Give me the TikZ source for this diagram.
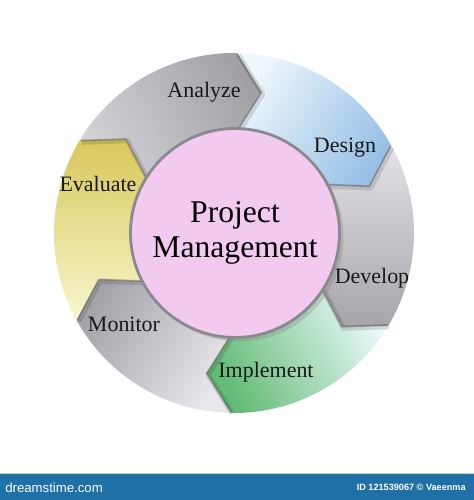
\documentclass[tikz,border=0pt]{standalone}
\usepackage{fontspec}
\setmainfont{Liberation Serif}
\newfontfamily\barfont{Liberation Sans}
\usetikzlibrary{shadows}

\definecolor{hubpink}{HTML}{F2C9EF}
\definecolor{hubrim}{HTML}{8A8A8E}
\definecolor{anaA}{HTML}{D2D2D6}
\definecolor{anaB}{HTML}{A2A2A6}
\definecolor{desA}{HTML}{EEF7FC}
\definecolor{desB}{HTML}{98C0E6}
\definecolor{devA}{HTML}{E2E2E6}
\definecolor{devB}{HTML}{A6A6AA}
\definecolor{impA}{HTML}{EAF8FA}
\definecolor{impB}{HTML}{63BB76}
\definecolor{monA}{HTML}{E8E8EC}
\definecolor{monB}{HTML}{A4A4A8}
\definecolor{evaA}{HTML}{F8F6CC}
\definecolor{evaB}{HTML}{D8C85C}
\definecolor{barblue}{HTML}{1F70A6}

\begin{document}
\begin{tikzpicture}

\tikzset{
  StepLabel/.style = { font = \fontsize{12.5}{15}\selectfont, text = black!90 },
  HeadEdge/.style  = { draw = black!60, line width = 0.8pt, opacity = 0.6,
                       line join = round },
  HeadShade/.style = { draw = black, line width = 3pt, opacity = 0.12,
                       line join = round, xshift = 0.8pt, yshift = -0.8pt },
  Hub/.style       = { circle, draw = hubrim, line width = 1.6pt,
                       fill = hubpink, minimum size = 4.18cm, align = center,
                       font = \fontsize{18}{20}\selectfont,
                       drop shadow = {opacity = 0.3} },
  BarText/.style   = { text = white, inner sep = 0pt } }

  \useasboundingbox (-4.68,-5.34) rectangle (4.80,4.66);

  % ring segments, clockwise
  \shade[bottom color=anaA, top color=anaB, shading angle=-61]
    (149:3.6) arc[start angle=149, end angle=89, radius=3.6] -- (79:2.86)
    -- (89:2.0) arc[start angle=89, end angle=149, radius=2.0] -- (139:2.86) -- cycle;
  \shade[bottom color=desA, top color=desB, shading angle=-121]
    (89:3.6) arc[start angle=89, end angle=29, radius=3.6] -- (19:2.86)
    -- (29:2.0) arc[start angle=29, end angle=89, radius=2.0] -- (79:2.86) -- cycle;
  \shade[bottom color=devA, top color=devB, shading angle=-181]
    (29:3.6) arc[start angle=29, end angle=-31, radius=3.6] -- (-41:2.86)
    -- (-31:2.0) arc[start angle=-31, end angle=29, radius=2.0] -- (19:2.86) -- cycle;
  \shade[bottom color=impA, top color=impB, shading angle=119]
    (-31:3.6) arc[start angle=-31, end angle=-91, radius=3.6] -- (-101:2.86)
    -- (-91:2.0) arc[start angle=-91, end angle=-31, radius=2.0] -- (-41:2.86) -- cycle;
  \shade[bottom color=monA, top color=monB, shading angle=59]
    (-91:3.6) arc[start angle=-91, end angle=-151, radius=3.6] -- (-161:2.86)
    -- (-151:2.0) arc[start angle=-151, end angle=-91, radius=2.0] -- (-101:2.86) -- cycle;
  \shade[bottom color=evaA, top color=evaB, shading angle=-1]
    (209:3.6) arc[start angle=209, end angle=149, radius=3.6] -- (139:2.86)
    -- (149:2.0) arc[start angle=149, end angle=209, radius=2.0] -- (199:2.86) -- cycle;

  % arrow heads
  \foreach \h in {89, 29, -31, -91, -151, 149} {
    \draw[HeadShade] (\h:3.58) -- (\h-10:2.86) -- (\h:2.0);
    \draw[HeadEdge] (\h:3.58) -- (\h-10:2.86) -- (\h:2.0);
  }

  \node[Hub] (hub) at (0.02,0) {Project\\Management};

  \node[StepLabel] (analyze)   at (-0.60, 2.82) {Analyze};
  \node[StepLabel] (design)    at ( 2.22, 1.70) {Design};
  \node[StepLabel] (develop)   at ( 2.76,-0.90) {Develop};
  \node[StepLabel] (implement) at ( 0.64,-2.78) {Implement};
  \node[StepLabel] (monitor)   at (-2.20,-1.82) {Monitor};
  \node[StepLabel] (evaluate)  at (-2.72, 0.98) {Evaluate};

  % credit bar
  \fill[barblue] (-4.68,-5.34) rectangle (4.80,-4.80);
  \draw[white!70!barblue, line width=0.6pt] (-4.68,-4.81) -- (4.80,-4.81);
  \node[BarText, anchor=west, font=\barfont\fontsize{7.5}{9}\selectfont]
    (site) at (-4.58,-5.09) {dreamstime.com};
  \node[BarText, anchor=east, font=\barfont\bfseries\fontsize{5.2}{6}\selectfont]
    (credit) at (4.64,-5.09) {ID 121539067 © Vaeenma};

\end{tikzpicture}
\end{document}
